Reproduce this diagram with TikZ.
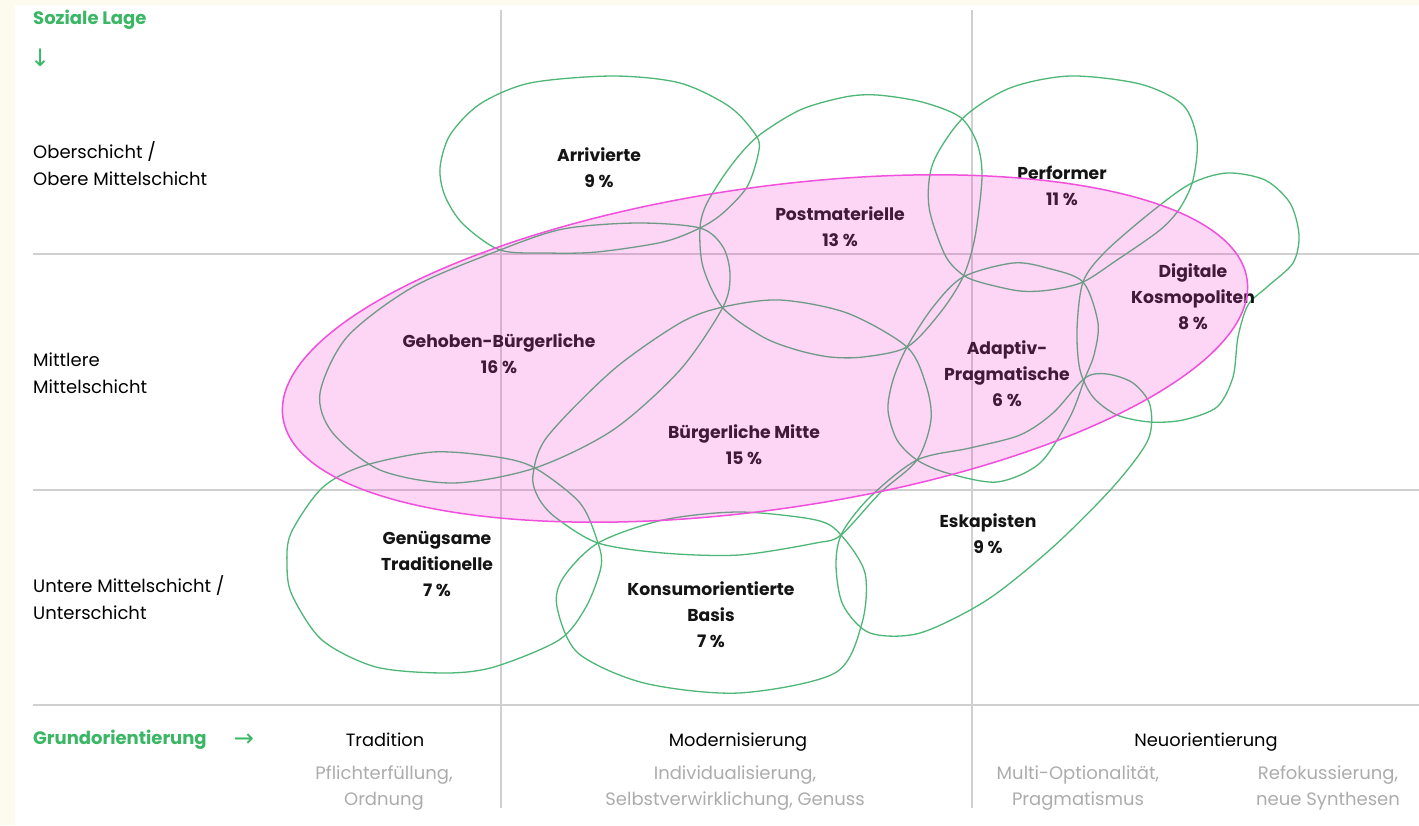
\documentclass[tikz,border=0pt]{standalone}
\usepackage{fontspec}
\setmainfont{Poppins}
\newfontfamily\arrowfont{DejaVu Sans}
\definecolor{cream}{RGB}{252,251,238}
\definecolor{gridgray}{RGB}{208,208,208}
\definecolor{milieugreen}{RGB}{78,182,118}
\definecolor{labelgreen}{RGB}{58,183,100}
\definecolor{subgray}{RGB}{172,172,172}
\definecolor{pinkfill}{RGB}{245,45,205}
\definecolor{pinkline}{RGB}{240,80,220}

\begin{document}
\begin{tikzpicture}[x=1pt, y=-1pt,
  blob/.style={draw=milieugreen, line width=1.3pt},
  gridline/.style={draw=gridgray, line width=1.1pt},
  milieu/.style={align=center, inner sep=0pt, text=black!92, font=\fontsize{17.2}{26}\selectfont\bfseries},
  rowlabel/.style={anchor=west, align=left, inner sep=0pt, font=\fontsize{18}{27}\selectfont},
  axislabel/.style={inner sep=0pt, text=labelgreen, font=\fontsize{18}{20}\selectfont\bfseries},
  arrowlabel/.style={inner sep=0pt, text=labelgreen, font=\arrowfont\fontsize{24}{24}\selectfont},
  colhead/.style={anchor=base, inner sep=0pt, font=\fontsize{17.8}{20}\selectfont},
  colsub/.style={align=center, inner sep=0pt, text=subgray, font=\fontsize{18}{26}\selectfont}]
\useasboundingbox (0,0) rectangle (1419,825);
\fill[cream] (0,0) rectangle (1419,825);
\fill[white] (15,5) rectangle (1419,825);
% -- grid --
\draw[gridline] (33,254) -- (1419,254);
\draw[gridline] (33,490) -- (1419,490);
\draw[gridline] (33,705) -- (1419,705);
\draw[gridline] (501,10) -- (501,808);
\draw[gridline] (972,10) -- (972,808);
% -- milieus: upper row --
\draw[blob] plot[smooth cycle] coordinates {(613,76) (680,83) (730,107) (757,137) (758,155) (747,187) (723,213) (700,228) (663,242) (597,252) (547,253) (500,250) (463,224) (445,196) (440,168) (450,135) (480,104) (530,83)};
\draw[blob] plot[smooth cycle] coordinates {(877,95) (922,102) (960,117) (977,143) (982,177) (975,237) (963,277) (940,313) (907,347) (863,357) (830,357) (797,350) (763,337) (723,308) (703,267) (700,228) (707,203) (730,167) (757,137) (800,110) (845,97)};
\draw[blob] plot[smooth cycle] coordinates {(1070,76) (1140,84) (1183,105) (1197,140) (1193,180) (1180,208) (1160,230) (1117,260) (1083,282) (1050,290) (1020,291) (983,283) (963,275) (945,255) (929,207) (933,163) (963,118) (1010,88)};
\draw[blob] plot[smooth cycle] coordinates {(1227,173) (1265,180) (1290,203) (1299,235) (1293,263) (1267,287) (1248,305) (1238,337) (1233,377) (1217,407) (1183,420) (1150,422) (1117,415) (1093,397) (1080,370) (1077,330) (1083,282) (1105,252) (1150,213) (1190,184)};
% -- milieus: middle row --
\draw[blob] plot[smooth cycle] coordinates {(320,393) (347,337) (413,287) (500,250) (563,229) (637,223) (700,228) (723,247) (730,275) (723,307) (680,370) (613,430) (535,468) (453,483) (380,470) (332,432)};
\draw[blob] plot[smooth cycle] coordinates {(533,475) (547,437) (613,370) (680,323) (723,307) (780,300) (847,313) (907,347) (926,385) (931,420) (917,460) (880,493) (841,535) (816,543) (739,555) (663,553) (598,543) (555,517) (538,497)};
\draw[blob] plot[smooth cycle] coordinates {(963,277) (1013,263) (1047,268) (1083,282) (1098,323) (1094,355) (1085,378) (1070,417) (1040,463) (997,482) (947,473) (917,460) (897,440) (888,410) (893,380) (907,347) (933,307)};
% -- milieus: lower row --
\draw[blob] plot[smooth cycle] coordinates {(291,533) (322,488) (363,466) (433,452) (497,457) (535,468) (580,503) (598,543) (601,567) (586,607) (559,640) (494,667) (445,673) (376,667) (322,640) (292,595) (287,565)};
\draw[blob] plot[smooth cycle] coordinates {(598,543) (663,520) (739,512) (816,520) (841,535) (865,573) (862,623) (835,673) (739,693) (644,683) (578,653) (557,607) (563,578)};
\draw[blob] plot[smooth cycle] coordinates {(836,565) (842,533) (870,497) (917,460) (970,448) (1020,435) (1053,413) (1085,378) (1107,374) (1133,383) (1150,405) (1148,440) (1113,487) (1053,547) (987,600) (920,633) (870,633) (843,605)};
% -- milieu labels --
\node[milieu] (arr) at (599,168) {Arrivierte\\9~\%};
\node[milieu] (post) at (840,227) {Postmaterielle\\13~\%};
\node[milieu] (perf) at (1062,186) {Performer\\11~\%};
\node[milieu] (digi) at (1193,297) {Digitale\\Kosmopoliten\\8~\%};
\node[milieu] (geh) at (499,354) {Gehoben-Bürgerliche\\16~\%};
\node[milieu] (adapt) at (1007,374) {Adaptiv-\\Pragmatische\\6~\%};
\node[milieu] (mitte) at (744,445) {Bürgerliche Mitte\\15~\%};
\node[milieu] (gen) at (437,564) {Genügsame\\Traditionelle\\7~\%};
\node[milieu] (kons) at (711,615) {Konsumorientierte\\Basis\\7~\%};
\node[milieu] (eska) at (988,534) {Eskapisten\\9~\%};
% -- social position --
\node[axislabel, anchor=west] (lage) at (33,20) {Soziale Lage};
\node[arrowlabel, anchor=west] (lagearrow) at (30,58) {↓};
\node[rowlabel] (ober) at (33,164) {Oberschicht /\\Obere Mittelschicht};
\node[rowlabel] (mittel) at (33,373) {Mittlere\\Mittelschicht};
\node[rowlabel] (unter) at (33,598) {Untere Mittelschicht /\\Unterschicht};
% -- basic orientation --
\node[axislabel, anchor=west] (grund) at (33,740) {Grundorientierung};
\node[arrowlabel] (grundarrow) at (244,740) {→};
\node[colhead] (trad) at (385,746) {Tradition};
\node[colhead] (mod) at (738,746) {Modernisierung};
\node[colhead] (neu) at (1206,746) {Neuorientierung};
\node[colsub] (tradsub) at (384,788) {Pflichterfüllung,\\Ordnung};
\node[colsub] (modsub) at (735,788) {Individualisierung,\\Selbstverwirklichung, Genuss};
\node[colsub] (neusuba) at (1078,788) {Multi-Optionalität,\\Pragmatismus};
\node[colsub] (neusubb) at (1328,788) {Refokussierung,\\neue Synthesen};
% -- middle-class overlay --
\draw[draw=pinkline, line width=1.5pt, fill=pinkfill, fill opacity=0.2, rotate around={8.15:(765,348.5)}] (765,348.5) ellipse [x radius=487pt, y radius=161pt];
\end{tikzpicture}
\end{document}
